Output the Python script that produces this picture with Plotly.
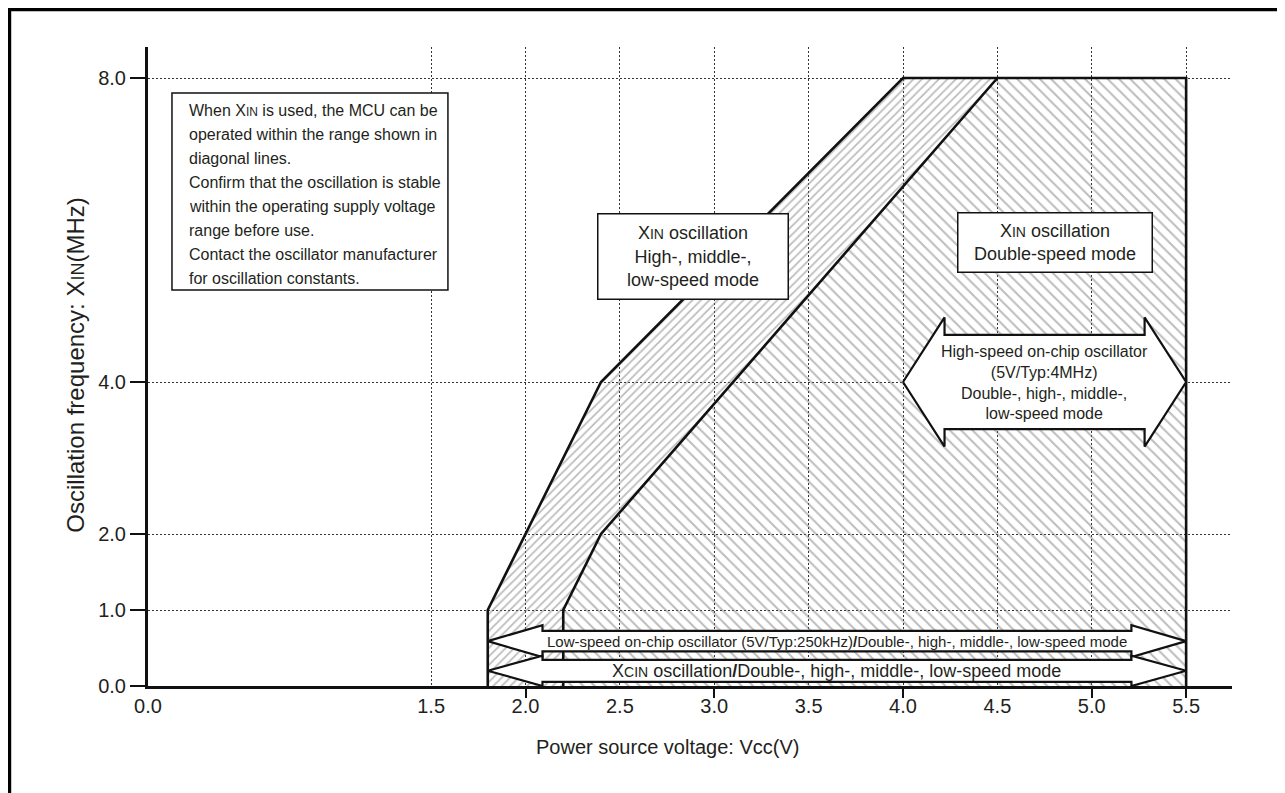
import plotly.graph_objects as go

# operating area boundaries: Vcc (V) against XIN (MHz)
outer_vcc = [1.8, 1.8, 2.4, 4.0, 5.5, 5.5]
outer_mhz = [0.0, 1.0, 4.0, 8.0, 8.0, 0.0]
inner_vcc = [2.2, 2.2, 2.4, 4.5]
inner_mhz = [0.0, 1.0, 2.0, 8.0]

x_ticks = [0.0, 1.5, 2.0, 2.5, 3.0, 3.5, 4.0, 4.5, 5.0, 5.5]
x_marks = [2.0, 3.0, 4.0, 5.0, 5.5]
y_ticks = [0.0, 1.0, 2.0, 4.0, 8.0]

# on-chip / sub-clock ranges drawn as double arrows
arrow_from = [4.0, 1.8, 1.8]
arrow_to = [5.5, 5.5, 5.5]
arrow_at = [4.0, 0.59, 0.20]

SC = '<span style="font-size:{}px">{}</span>'

note_lines = [
    "When X" + SC.format(12, "IN") + " is used, the MCU can be",
    "operated within the range shown in",
    "diagonal lines.",
    "Confirm that the oscillation is stable",
    "within the operating supply voltage",
    "range before use.",
    "Contact the oscillator manufacturer",
    "for oscillation constants.",
]

FONT = "Arial, Liberation Sans, sans-serif"
INK = "#231f20"
HATCH = "#7a7a7a"

# arrow geometry (data units)
shaft_half = [0.62, 0.135, 0.145]
head_half = [0.85, 0.21, 0.20]
head_len = [0.22, 0.29, 0.29]


def arrow_shape(x0, x1, yc, sh, hh, hl):
    xs = [x0, x0 + hl, x0 + hl, x1 - hl, x1 - hl, x1, x1 - hl, x1 - hl, x0 + hl, x0 + hl, x0]
    ys = [yc, yc + hh, yc + sh, yc + sh, yc + hh, yc, yc - hh, yc - sh, yc - sh, yc - hh, yc]
    return xs, ys


fig = go.Figure()

# region between the two limits: "/" hatch
fig.add_trace(go.Scatter(
    x=outer_vcc[:4] + inner_vcc[::-1],
    y=outer_mhz[:4] + inner_mhz[::-1],
    fill="toself", mode="none", fillcolor="rgba(0,0,0,0)",
    fillpattern=dict(shape="/", size=6, solidity=0.3, fgcolor=HATCH, bgcolor="rgba(0,0,0,0)"),
    hoverinfo="skip", showlegend=False,
))
# double-speed region: "\" hatch
fig.add_trace(go.Scatter(
    x=inner_vcc + outer_vcc[4:],
    y=inner_mhz + outer_mhz[4:],
    fill="toself", mode="none", fillcolor="rgba(0,0,0,0)",
    fillpattern=dict(shape="\\", size=8, solidity=0.25, fgcolor=HATCH, bgcolor="rgba(0,0,0,0)"),
    hoverinfo="skip", showlegend=False,
))

for xs, ys in [(outer_vcc, outer_mhz), (inner_vcc, inner_mhz)]:
    fig.add_trace(go.Scatter(x=xs, y=ys, mode="lines", line=dict(color="#111", width=2.6),
                             hoverinfo="skip", showlegend=False))

for i in range(len(arrow_from)):
    ax, ay = arrow_shape(arrow_from[i], arrow_to[i], arrow_at[i], shaft_half[i], head_half[i], head_len[i])
    fig.add_trace(go.Scatter(x=ax, y=ay, mode="lines", fill="toself", fillcolor="white",
                             line=dict(color="#111", width=2.2), hoverinfo="skip", showlegend=False))

# tick marks only at some values, on an overlaid axis
fig.add_trace(go.Scatter(x=[x_ticks[0], x_ticks[-1]], y=[0, 0], xaxis="x2", mode="none",
                         hoverinfo="skip", showlegend=False))

x_range = [0, 5.743]
y_range = [0, 8.408]

fig.update_layout(
    width=1285, height=793,
    margin=dict(l=140, r=61, t=39, b=115),
    paper_bgcolor="white", plot_bgcolor="white",
    font=dict(family=FONT, color=INK, size=20),
    xaxis=dict(
        range=x_range, tickvals=x_ticks, ticktext=[f"{v:.1f}" for v in x_ticks],
        ticks="", ticklabelstandoff=0,
        tickfont=dict(size=20), showline=True, linecolor="#111", linewidth=3,
        showgrid=True, gridcolor="#333", gridwidth=1, griddash="2px,2px",
        zeroline=False,
    ),
    xaxis2=dict(
        range=x_range, overlaying="x", anchor="y", side="bottom",
        tickvals=x_marks, ticks="outside", ticklen=11, tickwidth=2, tickcolor="#111",
        showticklabels=False, showgrid=False, showline=False, zeroline=False,
    ),
    yaxis=dict(
        range=y_range, tickvals=y_ticks, ticktext=[f"{v:.1f}" for v in y_ticks],
        ticks="outside", ticklen=15, tickwidth=2, tickcolor="#111",
        tickfont=dict(size=20), showline=True, linecolor="#111", linewidth=3,
        showgrid=True, gridcolor="#333", gridwidth=1, griddash="2px,2px",
        zeroline=False, ticklabelstandoff=0,
    ),
)

# outer frame
fig.add_shape(type="rect", xref="paper", yref="paper", x0=-0.1278, x1=1.3, y0=-0.4, y1=1.0587,
              line=dict(color="black", width=3.5), fillcolor="rgba(0,0,0,0)", layer="above")

# note box
fig.add_shape(type="rect", x0=0.127, x1=1.589, y0=5.21, y1=7.803,
              line=dict(color="#111", width=1.5), fillcolor="white", layer="above")
for k, line in enumerate(note_lines):
    fig.add_annotation(x=0.207, y=7.579 - k * 0.316, text=line, showarrow=False,
                       xanchor="left", yanchor="middle", font=dict(size=16))

fig.add_annotation(
    x=2.885, y=5.645, showarrow=False,
    text="X" + SC.format(14, "IN") + " oscillation<br>High-, middle-,<br>low-speed mode",
    font=dict(size=18), bgcolor="white", bordercolor="#111", borderwidth=1.5,
    borderpad=3, width=183, height=78,
)
fig.add_annotation(
    x=4.805, y=5.83, showarrow=False,
    text="X" + SC.format(14, "IN") + " oscillation<br>Double-speed mode",
    font=dict(size=18), bgcolor="white", bordercolor="#111", borderwidth=1.5,
    borderpad=3, width=187, height=52,
)

fig.add_annotation(
    x=(arrow_from[0] + arrow_to[0]) / 2, y=arrow_at[0], showarrow=False,
    text="High-speed on-chip oscillator<br>(5V/Typ:4MHz)<br>Double-, high-, middle-,<br>low-speed mode",
    font=dict(size=16),
)
fig.add_annotation(
    x=(arrow_from[1] + arrow_to[1]) / 2, y=arrow_at[1], showarrow=False,
    text="Low-speed on-chip oscillator (5V/Typ:250kHz)<b>/</b>Double-, high-, middle-, low-speed mode",
    font=dict(size=15),
)
fig.add_annotation(
    x=(arrow_from[2] + arrow_to[2]) / 2, y=arrow_at[2], showarrow=False,
    text="X" + SC.format(14, "CIN") + " oscillation<b>/</b>Double-, high-, middle-, low-speed mode",
    font=dict(size=18),
)

# axis titles
fig.add_annotation(xref="paper", yref="paper", x=0.4797, y=-0.1158, showarrow=False,
                   text="Power source voltage: Vcc(V)", font=dict(size=20))
fig.add_annotation(xref="paper", yref="paper", x=-0.0812, y=0.502, showarrow=False, textangle=-90,
                   text="Oscillation frequency: X" + SC.format(18, "IN") + "(MHz)", font=dict(size=24))

fig.write_html("out.html")
